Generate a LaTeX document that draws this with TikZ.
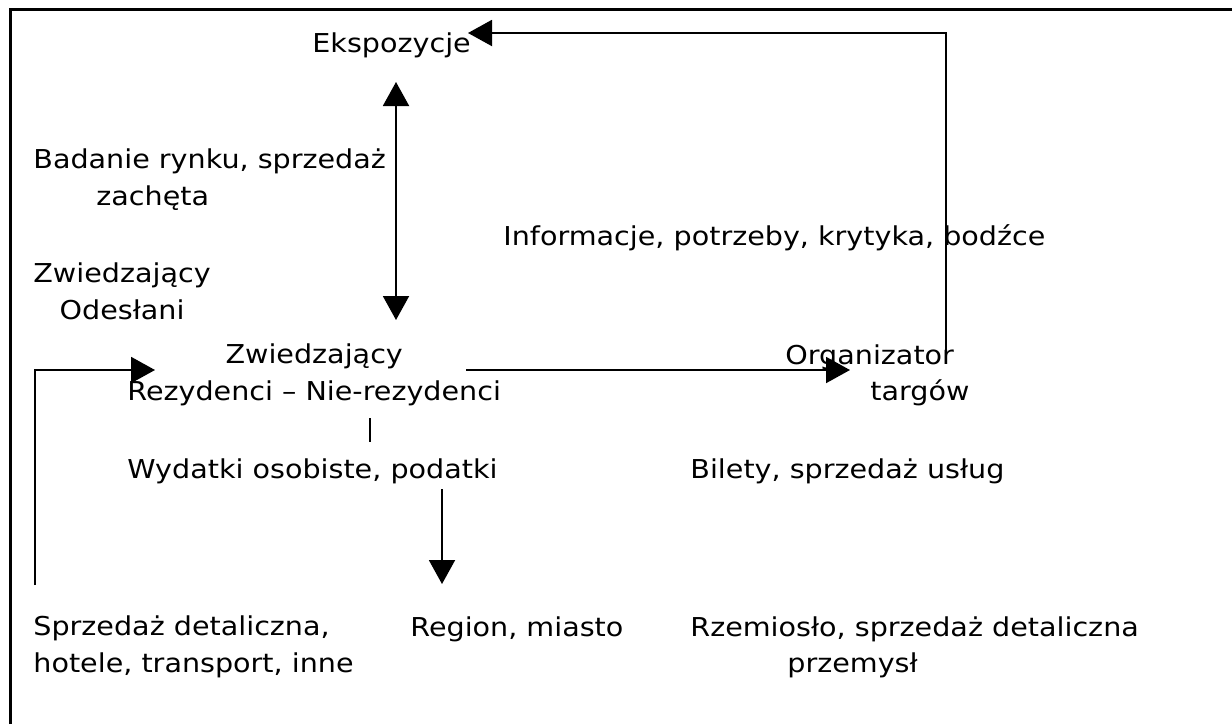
\documentclass[tikz,border=0pt]{standalone}
\usepackage{fontspec}
\setmainfont{DejaVu Sans}[FakeStretch=1.1]
\usetikzlibrary{arrows.meta}

\begin{document}
\begin{tikzpicture}[x=0.5pt,y=-0.5pt,
		lbl/.style={inner sep=0pt,anchor=base west,font=\fontsize{13pt}{18.5pt}\selectfont},
		conn/.style={line width=1pt},
		tip/.style={conn,-{Triangle[length=12pt,width=13pt]}},
		tips/.style={conn,{Triangle[length=12pt,width=13pt]}-{Triangle[length=12pt,width=13pt]}}]
	\useasboundingbox (0,0) rectangle (1232,724);
	\draw[line width=1.5pt] (10,724) -- (10,9) -- (1232,9);
	
	\node[lbl] (ekspo) at (312,52) {Ekspozycje};
	\node[lbl] (bad1) at (33,168) {Badanie rynku, sprzedaż};
	\node[lbl] (bad2) at (96,205) {zachęta};
	\node[lbl,align=center] (odes) at (33,319) {Zwiedzający\\Odesłani};
	\node[lbl] (info) at (503,245) {Informacje, potrzeby, krytyka, bodźce};
	\node[lbl,align=center] (zwie) at (127,400) {Zwiedzający\\Rezydenci – Nie-rezydenci};
	\node[lbl] (org1) at (785,364) {Organizator};
	\node[lbl] (org2) at (870,400) {targów};
	\node[lbl] (wyd) at (127,478) {Wydatki osobiste, podatki};
	\node[lbl] (bil) at (690,478) {Bilety, sprzedaż usług};
	\node[lbl,align=left] (sprz) at (33,672) {Sprzedaż detaliczna,\\hotele, transport, inne};
	\node[lbl] (reg) at (410,636) {Region, miasto};
	\node[lbl] (rzem1) at (690,636) {Rzemiosło, sprzedaż detaliczna};
	\node[lbl] (rzem2) at (787,672) {przemysł};
	
	% ends of the connectors
	\coordinate (orgtop) at (946,350);
	\coordinate (ekspoin) at (468,33);
	\coordinate (badtop) at (396,82);
	\coordinate (badbot) at (396,320);
	\coordinate (zwieout) at (466,370);
	\coordinate (orgin) at (850,370);
	\coordinate (sprztop) at (35,585);
	\coordinate (zwiein) at (155,370);
	\coordinate (tick1) at (370,418);
	\coordinate (tick2) at (370,442);
	\coordinate (wydout) at (442,489);
	\coordinate (regin) at (442,584);
	
	\draw[tip] (orgtop) |- (ekspoin);
	\draw[tips] (badtop) -- (badbot);
	\draw[tip] (zwieout) -- (orgin);
	\draw[tip] (sprztop) |- (zwiein);
	\draw[conn] (tick1) -- (tick2);
	\draw[tip] (wydout) -- (regin);
\end{tikzpicture}
\end{document}
